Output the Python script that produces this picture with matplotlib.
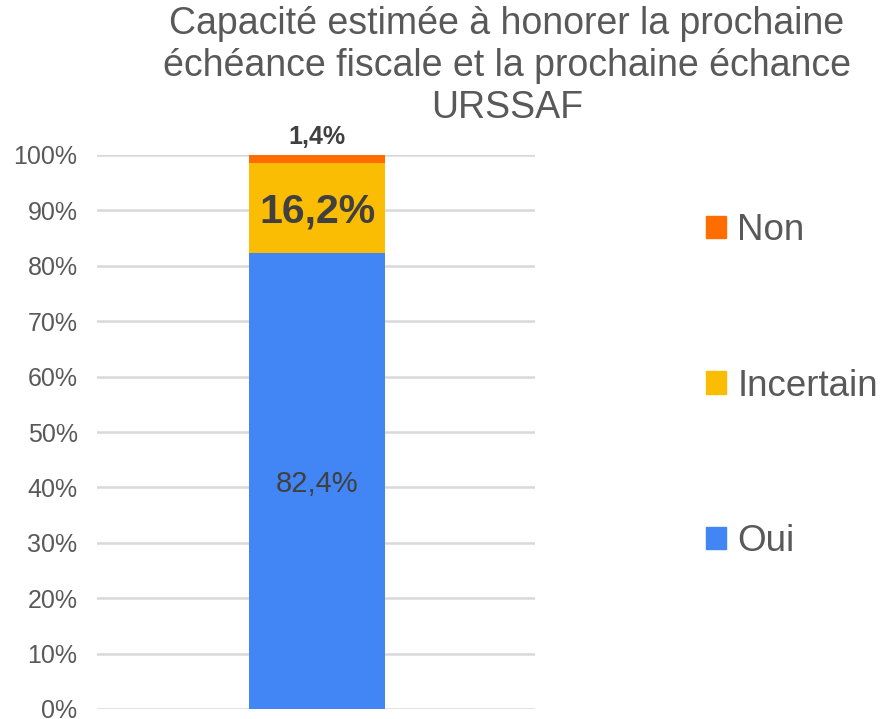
import matplotlib
matplotlib.use("Agg")
import matplotlib.pyplot as plt
from matplotlib.patches import Patch

plt.rcParams['font.family'] = ['Liberation Sans', 'DejaVu Sans']

categories = [""]
series_names = ["Oui", "Incertain", "Non"]
oui = [82.4]
incertain = [16.2]
non = [1.4]
labels = ["82,4%", "16,2%", "1,4%"]
yticks = [0, 10, 20, 30, 40, 50, 60, 70, 80, 90, 100]
ytick_labels = [f"{v}%" for v in yticks]
title = "Capacité estimée à honorer la prochaine\néchéance fiscale et la prochaine échance\nURSSAF"

colors = {"Oui": "#4285F4", "Incertain": "#FBBC04", "Non": "#FF6D01"}
textc = "#595959"

fig = plt.figure(figsize=(8.82, 7.19), dpi=100)
ax = fig.add_axes([97/882, 1-709/719, (535-97)/882, (709-155)/719])

x = [0]
w = 0.31
ax.bar(x, oui, w, color=colors["Oui"], zorder=3)
ax.bar(x, incertain, w, bottom=oui, color=colors["Incertain"], zorder=3)
ax.bar(x, non, w, bottom=[o + i for o, i in zip(oui, incertain)], color=colors["Non"], zorder=3)

ax.set_xlim(-0.503, 0.497)
ax.set_ylim(0, 100)
ax.set_yticks(yticks)
ax.set_yticklabels(ytick_labels, fontsize=18, color=textc)
ax.set_xticks([])
ax.tick_params(axis='y', length=0, pad=14)
for s in ax.spines.values():
    s.set_visible(False)
ax.grid(axis='y', color='#D9D9D9', linewidth=1.8, zorder=0)
ax.set_axisbelow(True)

# data labels
ax.text(x[0], oui[0] / 2, labels[0], ha='center', va='center_baseline', fontsize=21,
        color='#404040', zorder=4)
ax.text(x[0], oui[0] + incertain[0] / 2, labels[1], ha='center', va='center_baseline', fontsize=29.5,
        fontweight='bold', color='#404040', zorder=4)
ax.text(x[0], 100 + 1.0, labels[2], ha='center', va='bottom', fontsize=18,
        fontweight='bold', color='#404040', zorder=4, clip_on=False)

fig.text(507/882, 1-66/719, title, ha='center', va='center', fontsize=27, color=textc,
         linespacing=1.2)

handles = [Patch(color=colors["Non"]), Patch(color=colors["Incertain"]), Patch(color=colors["Oui"])]
leg = fig.legend(handles, ["Non", "Incertain", "Oui"], loc='center left',
                 bbox_to_anchor=(706/882, 1-386/719), frameon=False, fontsize=26.5,
                 labelspacing=3.27, handlelength=0.55, handleheight=0.55, handletextpad=0.3,
                 borderaxespad=0, borderpad=0)
for t in leg.get_texts():
    t.set_color(textc)

fig.savefig("out.png", dpi=100)
